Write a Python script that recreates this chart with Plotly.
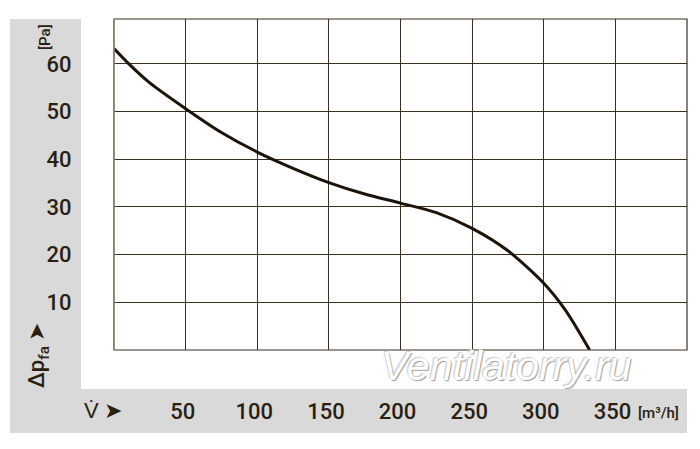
import plotly.graph_objects as go

# fan curve
flow = [0, 10, 25, 50, 75, 100, 125, 150, 175, 200, 225, 250, 275, 300, 315, 332]
pressure = [63.2, 60.1, 56.0, 50.6, 45.6, 41.5, 38.1, 35.1, 32.7, 30.8, 28.8, 25.5, 20.8, 14.0, 8.4, 0.0]

x_ticks = [50, 100, 150, 200, 250, 300, 350]
y_ticks = [10, 20, 30, 40, 50, 60]

FONT = "Roboto, Liberation Sans Narrow, sans-serif"
INK = "#2b1f12"
GRID = "#3b2f1f"
BAND = "#d9d9d9"

# page is shifted by the 8px body margin, so the figure is a bit smaller
PAGE_W, PAGE_H, OFF = 700, 449, 8
W, H = PAGE_W - OFF, PAGE_H - OFF
L, R, T, B = 114, 687, 19, 350   # plot area in page pixels


def px(x):
    return (x - L) / (R - L)


def py(y):
    return (B - y) / (B - T)


fig = go.Figure()
fig.add_trace(go.Scatter(
    x=flow, y=pressure, mode='lines',
    line=dict(color="#1e1309", width=3, shape='spline', smoothing=0.8),
    hoverinfo='skip', showlegend=False
))

shapes = [
    # grey bands left and bottom
    dict(type='rect', xref='paper', yref='paper', x0=px(10), x1=px(81), y0=py(433), y1=py(19),
         fillcolor=BAND, line_width=0, layer='below'),
    dict(type='rect', xref='paper', yref='paper', x0=px(10), x1=px(687), y0=py(433), y1=py(389),
         fillcolor=BAND, line_width=0, layer='below'),
    # frame
    dict(type='rect', xref='paper', yref='paper', x0=0, x1=1, y0=0, y1=1,
         line=dict(color=GRID, width=1.2), layer='above'),
]
fig.update_layout(shapes=shapes)


def label(text, x, y, size, angle=0, **kw):
    return dict(text=text, x=px(x), y=py(y), xref='paper', yref='paper',
                xanchor='center', yanchor='middle', textangle=angle, showarrow=False,
                font=dict(family=FONT, size=size, color=INK, weight=500), **kw)


annotations = [
    label("[Pa]", 45, 37, 15, -90),
    label("Δp<sub>fa</sub> ➤", 38, 356, 22, -90),
    label("V̇ ➤", 103, 411, 22),
    label("[m³/h]", 658, 413, 15),
]
watermark = label("Ventilatorry.ru", 506, 366, 41)
watermark['font'] = dict(family="Liberation Sans, Arial, sans-serif", size=41,
                         color="white", style='italic',
                         shadow="1px 1px 1px #9a9a9a, -1px -1px 1px #c8c8c8")
annotations.append(watermark)
fig.update_layout(annotations=annotations)

tick_font = dict(family=FONT, size=22, color=INK, weight=500)

fig.update_xaxes(
    range=[0, 400], tickvals=x_ticks, ticktext=[str(v) for v in x_ticks],
    showgrid=True, gridcolor=GRID, gridwidth=1, zeroline=False,
    ticks='outside', ticklen=42, tickcolor='rgba(0,0,0,0)',
    tickfont=tick_font, ticklabelshift=-3, fixedrange=True
)
fig.update_yaxes(
    range=[0, 69.4], tickvals=y_ticks, ticktext=[str(v) for v in y_ticks],
    showgrid=True, gridcolor=GRID, gridwidth=1, zeroline=False,
    ticks='outside', ticklen=37, tickcolor='rgba(0,0,0,0)',
    tickfont=tick_font, fixedrange=True
)

fig.add_vline(x=0, line=dict(color="#9b9482", width=1.5))

fig.update_layout(
    width=W, height=H,
    margin=dict(l=L - OFF, r=PAGE_W - R, t=T - OFF, b=PAGE_H - B),
    paper_bgcolor='white', plot_bgcolor='white',
    font=dict(family=FONT, color=INK)
)

fig.write_html("out.html")
